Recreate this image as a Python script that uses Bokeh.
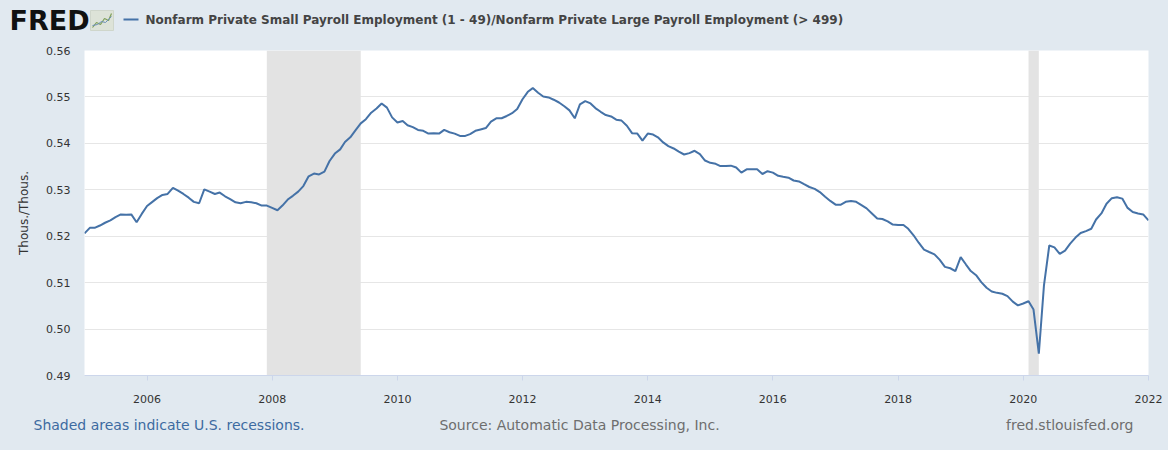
import pandas as pd
from bokeh.plotting import figure
from bokeh.layouts import column
from bokeh.models import (ColumnDataSource, Range1d, FixedTicker, DatetimeTickFormatter,
                          NumeralTickFormatter, BoxAnnotation, Label)
from bokeh.embed import file_html
from bokeh.resources import INLINE

# Monthly ratio small (1-49) / large (>499) payroll employment
first_month = "2005-01-01"
ratio = [
    0.5206, 0.5218, 0.5218, 0.5223, 0.5229, 0.5234, 0.5241, 0.5247, 0.5246, 0.5247, 0.5230, 0.5248,  # 2005
    0.5265, 0.5274, 0.5282, 0.5289, 0.5291, 0.5304, 0.5298, 0.5291, 0.5283, 0.5274, 0.5271, 0.5301,  # 2006
    0.5296, 0.5291, 0.5294, 0.5286, 0.5280, 0.5273, 0.5271, 0.5274, 0.5273, 0.5271, 0.5266, 0.5266,  # 2007
    0.5261, 0.5256, 0.5266, 0.5279, 0.5287, 0.5296, 0.5308, 0.5329, 0.5335, 0.5333, 0.5339, 0.5362,  # 2008
    0.5378, 0.5387, 0.5403, 0.5413, 0.5428, 0.5443, 0.5452, 0.5466, 0.5475, 0.5486, 0.5477, 0.5456,  # 2009
    0.5445, 0.5448, 0.5439, 0.5435, 0.5429, 0.5427, 0.5421, 0.5422, 0.5421, 0.5429, 0.5424, 0.5421,  # 2010
    0.5416, 0.5416, 0.5420, 0.5427, 0.5430, 0.5433, 0.5447, 0.5454, 0.5454, 0.5459, 0.5465, 0.5474,  # 2011
    0.5495, 0.5511, 0.5519, 0.5509, 0.5501, 0.5499, 0.5494, 0.5488, 0.5480, 0.5471, 0.5454, 0.5484,  # 2012
    0.5491, 0.5486, 0.5476, 0.5468, 0.5461, 0.5458, 0.5451, 0.5449, 0.5438, 0.5422, 0.5421, 0.5406,  # 2013
    0.5421, 0.5419, 0.5413, 0.5402, 0.5394, 0.5389, 0.5382, 0.5376, 0.5379, 0.5384, 0.5377, 0.5363,  # 2014
    0.5358, 0.5356, 0.5351, 0.5351, 0.5352, 0.5348, 0.5337, 0.5344, 0.5344, 0.5344, 0.5334, 0.5340,  # 2015
    0.5337, 0.5330, 0.5328, 0.5326, 0.5320, 0.5318, 0.5312, 0.5306, 0.5302, 0.5295, 0.5285, 0.5276,  # 2016
    0.5268, 0.5268, 0.5274, 0.5276, 0.5274, 0.5267, 0.5260, 0.5249, 0.5238, 0.5237, 0.5232, 0.5225,  # 2017
    0.5224, 0.5224, 0.5216, 0.5202, 0.5186, 0.5171, 0.5166, 0.5161, 0.5149, 0.5134, 0.5131, 0.5125,  # 2018
    0.5155, 0.5139, 0.5125, 0.5116, 0.5101, 0.5089, 0.5081, 0.5078, 0.5076, 0.5071, 0.5059, 0.5051,  # 2019
    0.5055, 0.5060, 0.5042, 0.4947, 0.5094, 0.5180, 0.5176, 0.5162, 0.5169, 0.5184, 0.5197, 0.5207,  # 2020
    0.5211, 0.5216, 0.5236, 0.5249, 0.5270, 0.5282, 0.5284, 0.5281, 0.5261, 0.5252, 0.5249, 0.5247,  # 2021
    0.5234,                                                                                          # 2022
]
rec_start = ["2007-12-01", "2020-02-01"]
rec_end = ["2009-06-01", "2020-04-01"]
x_ticks = ["2006", "2008", "2010", "2012", "2014", "2016", "2018", "2020", "2022"]
y_ticks = [0.49, 0.50, 0.51, 0.52, 0.53, 0.54, 0.55, 0.56]

title = "Nonfarm Private Small Payroll Employment (1 - 49)/Nonfarm Private Large Payroll Employment (> 499)"
font = "DejaVu Sans"
bg = "#e1e9f0"
W = 1168


def strip(h):
    # a plain band whose frame is the whole canvas, for header and footer text
    f = figure(width=W, height=h, x_range=Range1d(0, W), y_range=Range1d(h, 0),
               output_backend="svg", toolbar_location=None, min_border=0)
    f.axis.visible = False
    f.grid.visible = False
    f.outline_line_color = None
    f.background_fill_color = bg
    f.border_fill_color = bg
    return f


def add_text(f, x, y, text, size, color, align="left", style="normal"):
    f.add_layout(Label(x=x, y=y, text=text, text_font=font, text_font_size=size,
                       text_color=color, text_font_style=style, text_align=align,
                       text_baseline="middle"))


# header: FRED logo, legend key and series title
head = strip(40)
add_text(head, 9, 20, "FRED", "27px", "#111111", style="bold")
head.rect(x=[101.5], y=[20], width=23, height=20, fill_color="#dde3d8", line_color="#cfd6cb")
head.line(x=[92, 96, 100, 104, 108, 111], y=[27, 22, 24, 18, 20, 13], line_color="#7fa05a", line_width=1.2)
head.line(x=[92, 97, 101, 105, 111], y=[25, 24, 21, 22, 16], line_color="#6c8fb8", line_width=1)
head.line(x=[123, 138], y=[19, 19], line_color="#4572a7", line_width=2)
add_text(head, 145, 19, title, "12px", "#444444", style="bold")

# main chart
dates = pd.date_range(first_month, periods=len(ratio), freq="MS")
source = ColumnDataSource(dict(date=dates, ratio=ratio))

p = figure(width=W, height=370, x_axis_type="datetime", output_backend="svg",
           toolbar_location=None,
           x_range=Range1d(dates[0], dates[-1]), y_range=Range1d(y_ticks[0], y_ticks[-1]),
           min_border_left=84, min_border_right=20, min_border_top=10, min_border_bottom=35)
p.border_fill_color = bg
p.background_fill_color = "white"
p.outline_line_color = None

for s, e in zip(rec_start, rec_end):
    p.add_layout(BoxAnnotation(left=pd.Timestamp(s), right=pd.Timestamp(e), fill_color="#e3e3e3",
                               fill_alpha=1, line_color=None, level="underlay"))

p.line("date", "ratio", source=source, line_color="#4572a7", line_width=2)

p.xaxis.ticker = FixedTicker(ticks=[pd.Timestamp(t).timestamp() * 1000 for t in x_ticks])
p.xaxis.formatter = DatetimeTickFormatter(years="%Y", months="%Y", days="%Y")
p.xaxis.axis_line_color = "#ccd6eb"
p.xaxis.major_tick_line_color = "#ccd6eb"
p.xaxis.major_tick_out = 5
p.xaxis.major_tick_in = 0
p.xaxis.minor_tick_line_color = None
p.xaxis.major_label_standoff = 14
p.xaxis.major_label_text_font = font
p.xaxis.major_label_text_font_size = "11px"
p.xaxis.major_label_text_color = "#333333"

p.yaxis.ticker = FixedTicker(ticks=y_ticks)
p.yaxis.formatter = NumeralTickFormatter(format="0.00")
p.yaxis.axis_line_color = None
p.yaxis.major_tick_line_color = None
p.yaxis.major_tick_out = 0
p.yaxis.major_tick_in = 0
p.yaxis.minor_tick_line_color = None
p.yaxis.major_label_standoff = 14
p.yaxis.major_label_text_font = font
p.yaxis.major_label_text_font_size = "11px"
p.yaxis.major_label_text_color = "#333333"
p.yaxis.axis_label = "Thous./Thous."
p.yaxis.axis_label_text_font = font
p.yaxis.axis_label_text_font_style = "normal"
p.yaxis.axis_label_text_font_size = "12px"
p.yaxis.axis_label_text_color = "#333333"
p.yaxis.axis_label_standoff = 12

p.xgrid.visible = False
p.ygrid.grid_line_color = "#e6e6e6"

# footer
foot = strip(40)
add_text(foot, 33, 14, "Shaded areas indicate U.S. recessions.", "14px", "#3d6ba1")
add_text(foot, 579, 14, "Source: Automatic Data Processing, Inc.", "14px", "#6e6e6e", align="center")
add_text(foot, 1133, 14, "fred.stlouisfed.org", "14px", "#6e6e6e", align="right")

# wrapping the bands keeps their frames from being aligned to the chart frame
fill = {"background-color": bg}
page = column(column(head, styles=fill), p, column(foot, styles=fill), spacing=0, styles=fill)
open("out.html", "w").write(file_html(page, INLINE))
